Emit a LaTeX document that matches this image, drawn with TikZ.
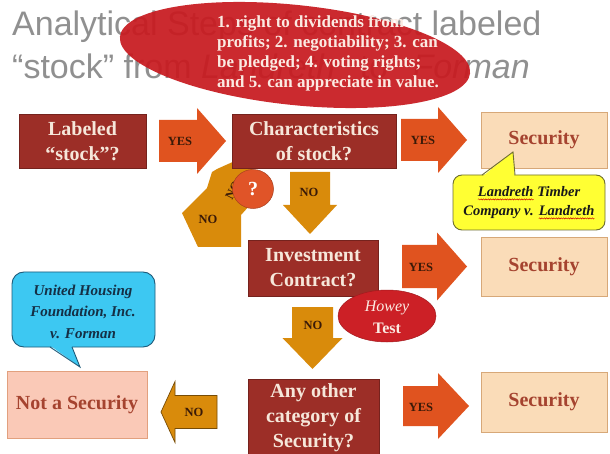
\documentclass[tikz,border=0pt]{standalone}
\usepackage{fontspec}
\setmainfont{Liberation Serif}
\newfontfamily\ttlfont{Liberation Sans}
\usetikzlibrary{shapes.geometric,decorations.pathmorphing}
\definecolor{boxred}{HTML}{9C2E27}
\definecolor{boxtxt}{HTML}{F6E7DA}
\definecolor{ellred}{HTML}{C81A20}
\definecolor{elltxt}{HTML}{FBEAE2}
\definecolor{yesor}{HTML}{E0531F}
\definecolor{noor}{HTML}{D98B0B}
\definecolor{secfill}{HTML}{FADCB8}
\definecolor{secdraw}{HTML}{D7A878}
\definecolor{sectxt}{HTML}{A5432F}
\definecolor{notfill}{HTML}{FAC9B7}
\definecolor{notdraw}{HTML}{E2A07E}
\definecolor{yelfill}{HTML}{FFFF33}
\definecolor{yeldraw}{HTML}{6E6E2E}
\definecolor{blufill}{HTML}{3DC8F2}
\definecolor{bludraw}{HTML}{1E5B7A}
\definecolor{blutxt}{HTML}{152F45}
\definecolor{qfill}{HTML}{E05428}
\definecolor{howred}{HTML}{CC2026}
\definecolor{titlegray}{HTML}{909090}
\definecolor{arrtxt}{HTML}{3A1A08}
\newcommand\spellw[1]{\tikz[baseline=(sw.base)]{\node[inner sep=0pt,outer sep=0pt] (sw) {#1};\draw[red!80!black,line width=0.45pt,decorate,decoration={snake,amplitude=0.6pt,segment length=2.4pt}] ([yshift=-2.6pt]sw.base west) -- ([yshift=-2.6pt]sw.base east);}}
% block arrow pointing along x: tail x, head base x, tip x, centre y, half shaft, half head, style
\newcommand\blkR[7]{\path[#7] (#1,#4-#5) -- (#2,#4-#5) -- (#2,#4-#6) -- (#3,#4) -- (#2,#4+#6) -- (#2,#4+#5) -- (#1,#4+#5) -- cycle;}
% block arrow pointing down: centre x, tail y, head base y, tip y, half shaft, half head, style
\newcommand\blkD[7]{\path[#7] (#1-#5,#2) -- (#1+#5,#2) -- (#1+#5,#3) -- (#1+#6,#3) -- (#1,#4) -- (#1-#6,#3) -- (#1-#5,#3) -- cycle;}
\begin{document}
\begin{tikzpicture}[x=1pt,y=-1pt,
  darkbox/.style={draw=boxred!75!black,line width=0.6pt,fill=boxred,text=boxtxt,font=\fontsize{20}{25}\selectfont\bfseries,align=center,inner sep=0pt},
  secbox/.style={draw=secdraw,line width=0.8pt,fill=secfill,text=sectxt,font=\fontsize{20}{24}\selectfont\bfseries,inner sep=0pt},
  notbox/.style={draw=notdraw,line width=0.8pt,fill=notfill,text=sectxt,font=\fontsize{20}{24}\selectfont\bfseries,inner sep=0pt},
  yn/.style={text=arrtxt,font=\fontsize{12.5}{14}\selectfont\bfseries,inner sep=0pt},
  yesarr/.style={fill=yesor},
  noarr/.style={fill=noor},
  etxt/.style={anchor=base west,inner sep=0pt,text=elltxt,font=\fontsize{17}{17}\selectfont\bfseries},
  ttl/.style={anchor=base west,inner sep=0pt,text=titlegray,font=\ttlfont\fontsize{34}{34}\selectfont}]
\useasboundingbox (0,0) rectangle (610,454);
\fill[white] (0,0) rectangle (610,454);
% title
\node[ttl] (t1) at (12,36) {Analytical Steps of contract labeled};
\node[ttl] (t2) at (12,79) {“stock” from \textit{Landreth}\hspace{15pt} to\hspace{15pt} \textit{Forman}};
% characteristics ellipse
\node[ellipse,fill=ellred,fill opacity=0.93,minimum width=352pt,minimum height=100pt,inner sep=0pt,rotate=-6] (ell) at (295,55) {};
\node[etxt] (e1) at (217,28) {1. right to dividends from};
\node[etxt] (e2) at (217,48) {profits; 2. negotiability; 3. can};
\node[etxt] (e3) at (217,68) {be pledged; 4. voting rights;};
\node[etxt] (e4) at (217,88) {and 5. can appreciate in value.};
% uncertain loop arrows
\fill[noor] (182,213) -- (207,188) -- (212,172) -- (217,169) -- (246,156) -- (262,190) -- (250,205) -- (241,215) -- (241,247) -- (198,247) -- cycle;
\node[yn] (n4) at (208,219) {NO};
\node[yn,rotate=62] (n5) at (233,190) {NO};
% boxes
\node[darkbox,minimum width=127pt,minimum height=54pt] (lab) at (82.5,141) {Labeled\\“stock”?};
\node[darkbox,minimum width=164pt,minimum height=54pt] (chr) at (314,141) {Characteristics\\of stock?};
\node[darkbox,minimum width=130pt,minimum height=56pt] (inv) at (313,268) {Investment\\Contract?};
\node[darkbox,minimum width=131pt,minimum height=77pt] (oth) at (313.5,417.5) {Any other\\category of\\Security?};
\node[secbox,minimum width=126pt,minimum height=56pt] (s1) at (544,140) {Security};
\node[secbox,minimum width=126pt,minimum height=59pt] (s2) at (544,266.5) {Security};
\node[secbox,minimum width=126pt,minimum height=60pt] (s3) at (544,402) {Security};
\node[notbox,minimum width=140pt,minimum height=67pt] (ns) at (77,404.5) {Not a Security};
% arrows
\blkR{159}{197}{226}{141}{21}{33}{yesarr}
\blkR{401}{438}{467}{140}{21}{33}{yesarr}
\blkR{402}{437}{467}{266.5}{21.5}{34}{yesarr}
\blkR{403}{438}{469}{406}{20}{33}{yesarr}
\blkR{217}{175}{161}{412}{16.5}{30.5}{noarr,draw=noor!55!black,line width=0.7pt}
\blkD{310}{172}{205}{234}{20}{27}{noarr}
\blkD{312.5}{307}{338}{369}{20.5}{30}{noarr}
\node[yn] (y1) at (180,141) {YES};
\node[yn] (y2) at (423,140) {YES};
\node[yn] (y3) at (421,267) {YES};
\node[yn] (y4) at (421,407) {YES};
\node[yn] (n1) at (309,192) {NO};
\node[yn] (n2) at (313,325) {NO};
\node[yn] (n3) at (194,412) {NO};
% question circle
\node[ellipse,fill=qfill,draw=qfill!75!black,line width=0.5pt,minimum width=41pt,minimum height=39pt,inner sep=0pt,text=white,font=\fontsize{20}{20}\selectfont\bfseries] (q) at (253,189) {?};
% Howey test
\node[ellipse,fill=howred,draw=howred!80!black,line width=0.5pt,minimum width=98pt,minimum height=52pt,inner sep=0pt] (hw) at (387,316) {};
\node[align=center,inner sep=0pt,text=elltxt,font=\fontsize{16}{22}\selectfont] (ht) at (387,317) {{\itshape Howey}\\{\bfseries Test}};
% yellow callout
\node[draw=yeldraw,line width=0.9pt,fill=yelfill,rounded corners=9pt,minimum width=152pt,minimum height=55pt,inner sep=0pt] (yc) at (529,202.5) {};
\fill[yelfill] (482.5,176.3) -- (513,152) -- (514.5,176.3) -- cycle;
\draw[yeldraw,line width=0.9pt] (482,175) -- (513,152) -- (515,175);
\node[align=center,inner sep=0pt,text=black!90,font=\fontsize{14.5}{19}\selectfont\bfseries\itshape] (yt) at (529,203) {\spellw{Landreth} Timber\\Company v. \spellw{Landreth}};
% blue callout
\node[draw=bludraw,line width=0.9pt,fill=blufill,rounded corners=12pt,minimum width=143pt,minimum height=75pt,inner sep=0pt] (bc) at (83.5,309.5) {};
\fill[blufill] (50.5,345.8) -- (80,367) -- (71.5,345.8) -- cycle;
\draw[bludraw,line width=0.9pt] (50,347) -- (80,367) -- (72,347);
\node[align=center,inner sep=0pt,text=blutxt,font=\fontsize{15}{21.5}\selectfont\bfseries\itshape] (bt) at (83,311.5) {United Housing\\Foundation, Inc.\\v. Forman};
\end{tikzpicture}
\end{document}
